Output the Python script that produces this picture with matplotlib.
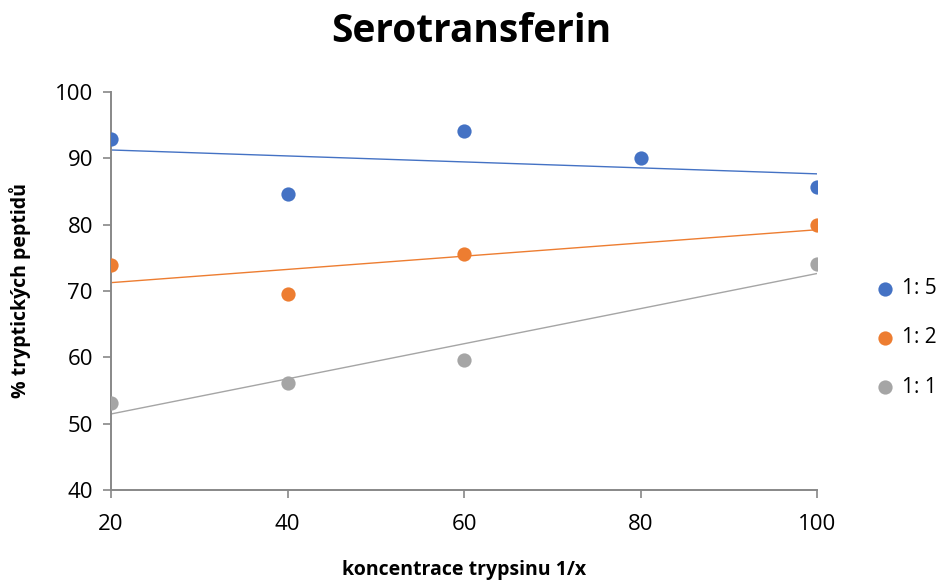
import numpy as np
import matplotlib.pyplot as plt

plt.rcParams['font.family'] = ['Open Sans', 'DejaVu Sans']

# ratios and measured % of tryptic peptides
labels = ["1: 5", "1: 2", "1: 1"]
colors = ["#4472C4", "#ED7D31", "#A5A5A5"]
x_15 = [20, 40, 60, 80, 100]
y_15 = [92.9, 84.6, 94.1, 90.0, 85.7]
x_12 = [20, 40, 60, 100]
y_12 = [73.9, 69.5, 75.6, 80.0]
x_11 = [20, 40, 60, 100]
y_11 = [53.1, 56.2, 59.6, 74.0]

series = [(x_15, y_15), (x_12, y_12), (x_11, y_11)]

fig = plt.figure(figsize=(9.49, 5.81), dpi=100)
ax = fig.add_axes([111 / 949, 1 - 490 / 581, (817 - 111) / 949, (490 - 92) / 581])

for (xs, ys), lab, col in zip(series, labels, colors):
    xs = np.array(xs, dtype=float)
    ys = np.array(ys, dtype=float)
    ax.scatter(xs, ys, s=105, color=col, label=lab, zorder=3, linewidths=0)
    # linear trend line over the data range
    k, b = np.polyfit(xs, ys, 1)
    xt = np.array([xs.min(), xs.max()])
    ax.plot(xt, k * xt + b, color=col, linewidth=1.0, zorder=2)

ax.set_xlim(20, 100)
ax.set_ylim(40, 100)
ax.set_xticks([20, 40, 60, 80, 100])
ax.set_yticks([40, 50, 60, 70, 80, 90, 100])
ax.tick_params(labelsize=16, colors="#888888", labelcolor="black", length=6, width=1.2, pad=7)
ax.tick_params(axis='x', pad=11)

for side in ["top", "right"]:
    ax.spines[side].set_visible(False)
for side in ["left", "bottom"]:
    ax.spines[side].set_color("#888888")
    ax.spines[side].set_linewidth(1.4)

ax.set_xlabel("koncentrace trypsinu 1/x", fontsize=14, fontweight="bold", labelpad=18)
ax.set_ylabel("% tryptických peptidů", fontsize=14, fontweight="bold", labelpad=17)
fig.text(0.497, 0.945, "Serotransferin", ha="center", va="center", fontsize=28, fontweight="bold")

ax.legend(loc="center left", bbox_to_anchor=(1.055, 0.382), frameon=False, fontsize=15,
          handletextpad=-0.2, labelspacing=1.35, markerscale=1.0, borderaxespad=0.0)

fig.savefig("out.png", dpi=100)
